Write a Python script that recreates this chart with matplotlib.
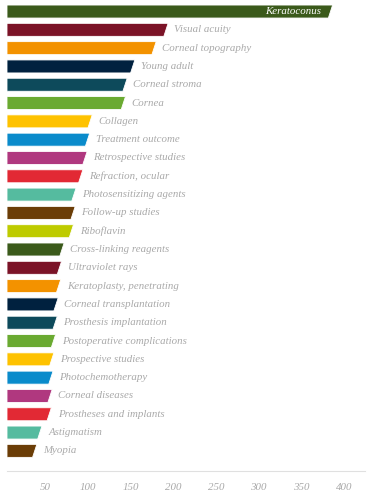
import numpy as np
import matplotlib
matplotlib.use('Agg')
import matplotlib.pyplot as plt
import matplotlib.transforms as mtransforms
from matplotlib.patches import Polygon

# Keyword counts (top to bottom).
terms = [
    "Keratoconus", "Visual acuity", "Corneal topography", "Young adult",
    "Corneal stroma", "Cornea", "Collagen", "Treatment outcome",
    "Retrospective studies", "Refraction, ocular", "Photosensitizing agents",
    "Follow-up studies", "Riboflavin", "Cross-linking reagents",
    "Ultraviolet rays", "Keratoplasty, penetrating", "Corneal transplantation",
    "Prosthesis implantation", "Postoperative complications",
    "Prospective studies", "Photochemotherapy", "Corneal diseases",
    "Prostheses and implants", "Astigmatism", "Myopia",
]
counts = [382, 189, 175, 150, 141, 139, 100, 97, 94, 89, 81, 80, 78,
          67, 64, 63, 60, 59, 57, 55, 54, 53, 52, 41, 35]
xticks = [50, 100, 150, 200, 250, 300, 350, 400]

palette = ["#3b5a1b", "#7b1327", "#f39200", "#00213f", "#0d4a5b",
           "#6aaa31", "#fec200", "#0a8bcb", "#b0387f", "#e22934",
           "#55bb9f", "#6b3d07", "#becb00"]

fig = plt.figure(figsize=(3.74, 5.03), dpi=100)
ax = fig.add_axes([7 / 374, 1 - 471 / 503, 358 / 374, 471 / 503])

bar_h = 0.71
slant = 5.0
for i, (name, v) in enumerate(zip(terms, counts)):
    col = palette[i % len(palette)]
    top, bot = i - bar_h / 2, i + bar_h / 2
    poly = Polygon([(0, top), (v, top), (v - slant, bot), (0, bot)],
                   closed=True, facecolor=col, edgecolor="white", lw=0.6)
    ax.add_patch(poly)
    if i == 0:
        ax.annotate(name, (v, i), xytext=(-8, 0), textcoords="offset points",
                    ha="right", va="center", color="white", fontsize=7.8,
                    family="Liberation Serif", style="italic")
    else:
        ax.annotate(name, (v, i), xytext=(4.5, 0), textcoords="offset points",
                    ha="left", va="center", color="#a9a9a9", fontsize=7.8,
                    family="Liberation Serif", style="italic")

ax.set_xlim(0, 420)
ax.set_ylim(25.1, -0.63)
ax.set_xticks(xticks)
ax.set_xticklabels([str(t) for t in xticks], family="Liberation Serif",
                   style="italic", color="#a9a9a9", fontsize=7.8)
ax.tick_params(axis="x", length=0, pad=9)
# labels sit a few px left of their ticks in the original
shift = mtransforms.ScaledTranslation(-4 / 100, 0, fig.dpi_scale_trans)
for lab in ax.get_xticklabels():
    lab.set_transform(lab.get_transform() + shift)
ax.set_yticks([])
for s in ["top", "right", "left"]:
    ax.spines[s].set_visible(False)
ax.spines["bottom"].set_color("#e0e0e0")
ax.spines["bottom"].set_linewidth(0.8)
ax.patch.set_alpha(0)

fig.savefig("out.png", dpi=100)
